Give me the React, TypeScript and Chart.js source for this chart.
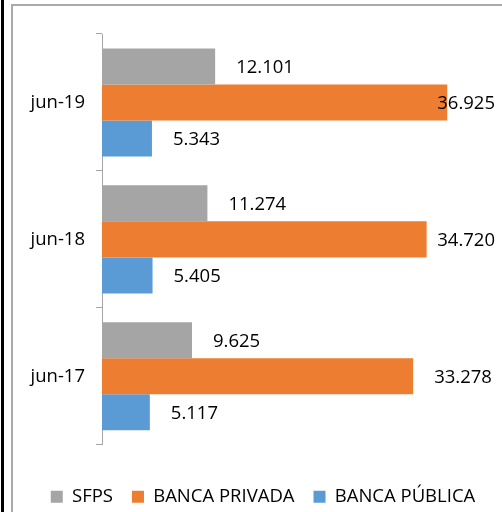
import React, { useEffect, useRef } from "react";
import { Chart, registerables } from "chart.js";

Chart.register(...registerables);

const categories = ["jun-19", "jun-18", "jun-17"];
const seriesNames = ["SFPS", "BANCA PRIVADA", "BANCA PÚBLICA"];
const sfps = [12101, 11274, 9625];
const bancaPrivada = [36925, 34720, 33278];
const bancaPublica = [5343, 5405, 5117];
const colors = ["#A5A5A5", "#ED7D31", "#5B9BD5"];

const FONT = "'Open Sans', sans-serif";
const FS = 18.5;

function fmt(v: number): string {
  return String(Math.round(v)).replace(/\B(?=(\d{3})+(?!\d))/g, ".");
}

const labelPlugin = {
  id: "barValueLabels",
  afterDatasetsDraw(chart: any) {
    const ctx = chart.ctx;
    ctx.save();
    ctx.font = `${FS}px ${FONT}`;
    ctx.fillStyle = "#000000";
    ctx.textBaseline = "middle";
    ctx.textAlign = "left";
    chart.data.datasets.forEach((ds: any, di: number) => {
      const meta = chart.getDatasetMeta(di);
      meta.data.forEach((el: any, i: number) => {
        const txt = fmt(ds.data[i]);
        const w = ctx.measureText(txt).width;
        let x = el.x + 21;
        const maxRight = chart.chartArea.right + 19;
        if (x + w > maxRight) x = maxRight - w;
        ctx.fillText(txt, x, el.y + 1);
      });
    });
    ctx.restore();
  },
};

export default function App() {
  const ref = useRef<HTMLCanvasElement | null>(null);
  useEffect(() => {
    document.body.style.margin = "0";
    if (!ref.current) return;
    const chart = new Chart(ref.current, {
      type: "bar",
      data: {
        labels: categories,
        datasets: [
          { label: seriesNames[0], data: sfps, backgroundColor: colors[0], yAxisID: "y" },
          { label: seriesNames[1], data: bancaPrivada, backgroundColor: colors[1], yAxisID: "y" },
          { label: seriesNames[2], data: bancaPublica, backgroundColor: colors[2], yAxisID: "y" },
        ],
      },
      options: {
        indexAxis: "y",
        responsive: false,
        animation: false,
        devicePixelRatio: 1,
        categoryPercentage: 0.79,
        barPercentage: 1.0,
        layout: { padding: { top: 34, left: 0, right: 0, bottom: 0 } },
        scales: {
          x: {
            display: true,
            min: 0,
            max: 40000,
            ticks: { display: false },
            grid: { display: false },
            border: { display: false },
            afterFit: (s: any) => {
              s.height = 23.75;
            },
          },
          y: {
            position: "left",
            grid: {
              display: true,
              drawOnChartArea: false,
              drawTicks: true,
              tickLength: 6,
              color: "#a6a6a6",
              lineWidth: 1,
              offset: true,
            },
            border: { display: true, color: "#a6a6a6", width: 1 },
            ticks: {
              color: "#000000",
              padding: 11,
              font: { family: FONT, size: FS },
            },
            afterFit: (s: any) => {
              s.width = 102;
            },
          },
          yRight: {
            type: "category",
            axis: "y",
            position: "right",
            display: true,
            ticks: { display: false },
            grid: { display: false },
            border: { display: false },
            afterFit: (s: any) => {
              s.width = 50;
            },
          },
        },
        plugins: {
          tooltip: { enabled: false },
          legend: {
            position: "bottom",
            labels: {
              boxWidth: 12,
              boxHeight: 12,
              padding: 19,
              color: "#000000",
              font: { family: FONT, size: FS },
            },
          },
        },
      },
      plugins: [labelPlugin],
    });
    return () => chart.destroy();
  }, []);

  return (
    <div style={{ position: "relative", width: 502, height: 512, overflow: "hidden", background: "#fff" }}>
      <div style={{ position: "absolute", left: 1, top: 0, width: 3, height: 512, background: "#000" }} />
      <div
        style={{
          position: "absolute",
          left: 11,
          top: 4,
          width: 502,
          height: 520,
          borderLeft: "2px solid #aaaaaa",
          borderTop: "2px solid #aaaaaa",
        }}
      />
      <canvas
        ref={ref}
        width={526}
        height={516}
        style={{ position: "absolute", left: 0, top: 0, width: 526, height: 516 }}
      />
    </div>
  );
}
